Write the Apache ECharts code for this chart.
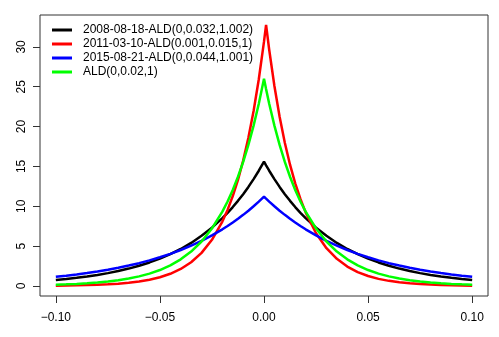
<!DOCTYPE html>
<html>
<head>
<meta charset="utf-8">
<script src="https://cdn.jsdelivr.net/npm/echarts@6/dist/echarts.min.js"></script>
<style>
html,body{margin:0;padding:0;background:#fff;}
#main{width:499px;height:337px;}
</style>
</head>
<body>
<div id="main"></div>
<script>
// x grid (shared by all curves)
var xVals = [-0.1,-0.095,-0.09,-0.085,-0.08,-0.075,-0.07,-0.065,-0.06,-0.055,-0.05,-0.045,-0.04,-0.035,-0.03,-0.025,
	-0.02,-0.0175,-0.015,-0.0125,-0.01,-0.0075,-0.005,-0.0025,0,0.001,0.0025,0.005,0.0075,0.01,0.0125,0.015,0.0175,0.02,
	0.025,0.03,0.035,0.04,0.045,0.05,0.055,0.06,0.065,0.07,0.075,0.08,0.085,0.09,0.095,0.1];

var legendNames = ["2008-08-18-ALD(0,0.032,1.002)","2011-03-10-ALD(0.001,0.015,1)","2015-08-21-ALD(0,0.044,1.001)","ALD(0,0.02,1)"];
var lineColors = ["#000000","#ff0000","#0000ff","#00ff00"];

var yBlack = [0.75,0.88,1.02,1.19,1.38,1.61,1.87,2.18,2.53,2.95,3.43,3.99,4.64,5.40,6.29,7.31,
	8.51,9.18,9.90,10.68,11.52,12.43,13.41,14.46,15.60,15.13,14.46,13.41,12.43,11.52,10.68,9.90,9.18,8.51,
	7.31,6.29,5.40,4.64,3.99,3.43,2.95,2.53,2.18,1.87,1.61,1.38,1.19,1.02,0.88,0.75];
var yRed = [0.04,0.05,0.08,0.11,0.15,0.21,0.29,0.40,0.56,0.78,1.09,1.53,2.13,2.97,4.15,5.79,
	8.08,9.54,11.28,13.32,15.74,18.59,21.96,25.94,30.65,32.76,29.64,25.09,21.24,17.98,15.22,12.88,10.91,9.23,
	6.61,4.74,3.40,2.43,1.74,1.25,0.89,0.64,0.46,0.33,0.24,0.17,0.12,0.09,0.06,0.04];
var yBlue = [1.15,1.29,1.45,1.62,1.82,2.04,2.28,2.56,2.86,3.21,3.60,4.03,4.51,5.05,5.66,6.35,
	7.11,7.53,7.97,8.43,8.92,9.44,10.00,10.58,11.20,10.95,10.58,10.00,9.44,8.92,8.43,7.97,7.53,7.11,
	6.35,5.66,5.05,4.51,4.03,3.60,3.21,2.86,2.56,2.28,2.04,1.82,1.62,1.45,1.29,1.15];
var yGreen = [0.15,0.20,0.26,0.33,0.43,0.56,0.72,0.93,1.20,1.55,2.00,2.59,3.34,4.32,5.58,7.21,
	9.32,10.60,12.05,13.70,15.57,17.70,20.12,22.87,26.00,24.70,22.87,20.12,17.70,15.57,13.70,12.05,10.60,9.32,
	7.21,5.58,4.32,3.34,2.59,2.00,1.55,1.20,0.93,0.72,0.56,0.43,0.33,0.26,0.20,0.15];

var xTicks = [-0.1,-0.05,0,0.05,0.1];
var yTicks = [0,5,10,15,20,25,30];

var yArr = [yBlack,yRed,yBlue,yGreen];
var fontName = "Liberation Sans, Arial, sans-serif";

var myCharts = echarts.init(document.getElementById("main"));

var seriesArr = [];
var legendData = [];
for(var i=0;i<legendNames.length;i++){
	var pts = [];
	for(var j=0;j<xVals.length;j++){
		pts.push([xVals[j], yArr[i][j]]);
	}
	seriesArr.push({
		name: legendNames[i],
		type: "line",
		data: pts,
		symbol: "none",
		smooth: false,
		lineStyle: { color: lineColors[i], width: 2.5 },
		itemStyle: { color: lineColors[i] }
	});
	legendData.push({ name: legendNames[i], icon: "rect" });
}

var option = {
	animation: false,
	backgroundColor: "#fff",
	grid: { left: 40, right: 11, top: 15, bottom: 41, show: true, borderColor: "#333", borderWidth: 1 },
	legend: {
		orient: "vertical",
		left: 52,
		top: 24,
		padding: 0,
		itemWidth: 20,
		itemHeight: 3,
		itemGap: 2,
		data: legendData,
		textStyle: { color: "#000", fontSize: 12, fontFamily: fontName, padding: [0,0,0,6] }
	},
	xAxis: {
		type: "value",
		min: -0.1076,
		max: 0.1076,
		axisLine: { show: false, onZero: false },
		splitLine: { show: false },
		axisTick: { show: true, inside: false, length: 7, customValues: xTicks, lineStyle: { color: "#333" } },
		axisLabel: {
			customValues: xTicks, margin: 16, color: "#000", fontSize: 12, fontFamily: fontName,
			formatter: function(v){ return (v < 0 ? "\u2212" : "") + Math.abs(v).toFixed(2); }
		}
	},
	yAxis: {
		type: "value",
		min: -1.26,
		max: 34.0,
		axisLine: { show: false, onZero: false },
		splitLine: { show: false },
		axisTick: { show: true, inside: false, length: 7, customValues: yTicks, lineStyle: { color: "#333" } },
		axisLabel: {
			customValues: yTicks, rotate: 90, margin: 12, color: "#000", fontSize: 12, fontFamily: fontName
		}
	},
	series: seriesArr
};
myCharts.setOption(option);
</script>
</body>
</html>
